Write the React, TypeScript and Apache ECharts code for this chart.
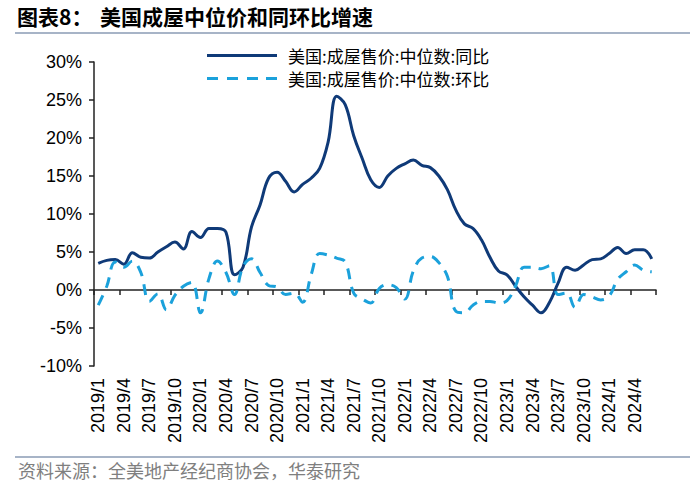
import { useEffect, useRef } from 'react';
import * as echarts from 'echarts';

const months: string[] = [
  '2019/1','2019/2','2019/3','2019/4','2019/5','2019/6','2019/7','2019/8','2019/9','2019/10','2019/11','2019/12',
  '2020/1','2020/2','2020/3','2020/4','2020/5','2020/6','2020/7','2020/8','2020/9','2020/10','2020/11','2020/12',
  '2021/1','2021/2','2021/3','2021/4','2021/5','2021/6','2021/7','2021/8','2021/9','2021/10','2021/11','2021/12',
  '2022/1','2022/2','2022/3','2022/4','2022/5','2022/6','2022/7','2022/8','2022/9','2022/10','2022/11','2022/12',
  '2023/1','2023/2','2023/3','2023/4','2023/5','2023/6','2023/7','2023/8','2023/9','2023/10','2023/11','2023/12',
  '2024/1','2024/2','2024/3','2024/4','2024/5','2024/6',
];

const yoy: number[] = [
  3.5, 3.9, 4.0, 3.4, 4.9, 4.3, 4.2, 5.0, 5.7, 6.3, 5.4, 7.7,
  6.9, 8.1, 8.1, 7.6, 2.0, 3.0, 8.3, 11.2, 14.7, 15.5, 14.3, 12.9,
  13.9, 14.7, 16.0, 19.5, 25.5, 24.4, 20.3, 17.3, 14.5, 13.5, 15.0, 16.0,
  16.6, 17.1, 16.4, 16.1, 15.0, 13.2, 10.5, 8.7, 8.1, 6.6, 4.3, 2.5,
  2.0, 0.5, -0.9, -2.0, -3.0, -1.6, 0.9, 3.0, 2.6, 3.3, 4.0, 4.1,
  4.8, 5.6, 4.8, 5.3, 5.3, 4.1,
];

const mom: number[] = [
  -2.0, 0.5, 3.7, 3.0, 3.8, 2.3, -1.5, -0.5, -2.6, -0.7, 0.5, 1.0,
  -3.0, 1.5, 3.8, 2.3, -0.6, 3.1, 4.1, 2.3, 0.6, 0.4, -0.6, -0.4,
  -1.6, 2.0, 4.8, 4.6, 4.2, 3.7, -0.4, -1.2, -1.7, 0.2, 0.7, 0.3,
  -1.2, 2.5, 4.2, 4.4, 3.6, 1.8, -2.8, -3.0, -2.0, -1.5, -1.5, -1.7,
  -1.4, 0.5, 3.0, 3.0, 2.8, 3.2, -0.6, -0.4, -2.3, -0.6, -0.9, -1.3,
  -0.8, 1.4, 2.4, 3.3, 2.6, 2.4,
];

const seriesNames: string[] = ['美国:成屋售价:中位数:同比', '美国:成屋售价:中位数:环比'];
const titleLead = '图表8：';
const titleMain = '美国成屋中位价和同环比增速';
const sourceText = '资料来源：全美地产经纪商协会，华泰研究';

export default function App() {
  const ref = useRef<HTMLDivElement>(null);
  useEffect(() => {
    if (!ref.current) return;
    const chart = echarts.init(ref.current, null, { renderer: 'svg' });
    const cjk = "'Noto Sans CJK SC', sans-serif";
    const latin = "'Liberation Sans', Arial, sans-serif";
    chart.setOption({
      animation: false,
      backgroundColor: '#ffffff',
      grid: { left: 94, right: 44, top: 62, bottom: 126, outerBoundsMode: 'none', containLabel: false },
      legend: {
        orient: 'vertical',
        left: 202,
        top: 42,
        itemWidth: 70,
        itemHeight: 3,
        itemGap: 6,
        data: [
          { name: seriesNames[0], icon: 'rect' },
          { name: seriesNames[1], icon: 'path://M0,0h11v3h-11z M20,0h11v3h-11z M40,0h11v3h-11z M59,0h11v3h-11z' },
        ],
        textStyle: { fontFamily: cjk, fontSize: 17, color: '#000', padding: [0, 0, 0, 6] },
      },
      xAxis: {
        type: 'category',
        data: months,
        boundaryGap: true,
        axisLine: { onZero: true, lineStyle: { color: '#222', width: 1.5 } },
        axisTick: { show: true, interval: 2, alignWithLabel: false, length: 5, lineStyle: { color: '#222', width: 1.5 } },
        axisLabel: {
          interval: 2,
          rotate: 90,
          margin: 12,
          fontFamily: latin,
          fontSize: 18,
          color: '#000',
        },
        splitLine: { show: false },
      },
      yAxis: {
        type: 'value',
        min: -10,
        max: 30,
        interval: 5,
        axisLine: { show: true, lineStyle: { color: '#222', width: 1.5 } },
        axisTick: { show: true, length: 5, lineStyle: { color: '#222', width: 1.5 } },
        axisLabel: { formatter: '{value}%', fontFamily: latin, fontSize: 18, color: '#000', margin: 12 },
        splitLine: { show: false },
      },
      series: [
        {
          name: seriesNames[0],
          type: 'line',
          data: yoy,
          smooth: 0.4,
          symbol: 'none',
          lineStyle: { color: '#0f3a78', width: 3 },
          itemStyle: { color: '#0f3a78' },
        },
        {
          name: seriesNames[1],
          type: 'line',
          data: mom,
          smooth: 0.4,
          symbol: 'none',
          lineStyle: { color: '#1ba1db', width: 3, type: [11, 8] },
          itemStyle: { color: '#1ba1db' },
        },
      ],
      graphic: [
        {
          type: 'text', left: 17, top: 5,
          style: { text: titleLead, fontFamily: cjk, fontWeight: 'bold', fontSize: 21, fill: '#000' },
        },
        {
          type: 'text', left: 100, top: 5,
          style: { text: titleMain, fontFamily: cjk, fontWeight: 'bold', fontSize: 21, fill: '#000' },
        },
        {
          type: 'line', shape: { x1: 15, y1: 33, x2: 690, y2: 33 },
          style: { stroke: '#8a9bb4', lineWidth: 1.5 },
        },
        {
          type: 'line', shape: { x1: 15, y1: 457, x2: 690, y2: 457 },
          style: { stroke: '#8a9bb4', lineWidth: 1.5 },
        },
        {
          type: 'text', left: 18, top: 461,
          style: { text: sourceText, fontFamily: cjk, fontSize: 18, fill: '#7f7f7f' },
        },
      ],
    });
    return () => chart.dispose();
  }, []);
  return <div ref={ref} style={{ position: 'fixed', left: 0, top: 0, width: 700, height: 492 }} />;
}
